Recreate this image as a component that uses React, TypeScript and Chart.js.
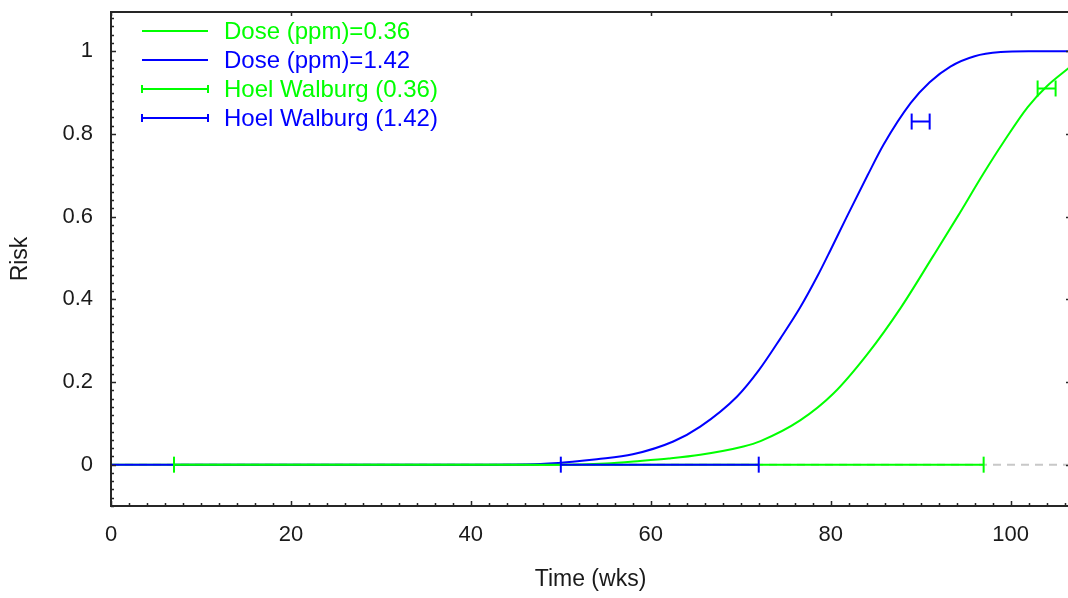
import React, { useEffect, useRef } from "react";
import { Chart, registerables } from "chart.js";

Chart.register(...registerables);

// ---- data ----
const timeLow = [0, 50, 55, 58.8, 62, 65.5, 70.3, 72.2, 76.6, 80.3, 84.1, 87.8, 91.4, 94.1, 97, 99.2, 101.9, 104, 106.6];
const riskLow = [0, 0, 0.003, 0.009, 0.015, 0.024, 0.044, 0.057, 0.107, 0.172, 0.268, 0.38, 0.505, 0.6, 0.705, 0.78, 0.865, 0.915, 0.962];

const timeHigh = [0, 40, 47, 51.3, 54, 58, 62.5, 65.5, 69.6, 72, 74.4, 76.6, 78.5, 80, 81.8, 84.1, 85.9, 88.9, 91, 93.3, 96, 98.9, 102, 106.6];
const riskHigh = [0, 0, 0.001, 0.007, 0.013, 0.025, 0.056, 0.092, 0.165, 0.228, 0.305, 0.38, 0.455, 0.52, 0.6, 0.7, 0.775, 0.875, 0.925, 0.963, 0.988, 0.998, 1.0, 1.0];

// Hoel Walburg intervals: [start, end] at a risk level
const hwLowStart = [7, 103];
const hwLowEnd = [97, 105];
const hwLowRisk = [0, 0.91];

const hwHighStart = [50, 89];
const hwHighEnd = [72, 91];
const hwHighRisk = [0, 0.83];

const xTickValues = [0, 20, 40, 60, 80, 100];
const yTickValues = [0, 0.2, 0.4, 0.6, 0.8, 1];
const xMin = 0;
const xMax = 106.6;
const yMin = -0.1;
const yMax = 1.095;

const labels = ["Dose (ppm)=0.36", "Dose (ppm)=1.42", "Hoel Walburg (0.36)", "Hoel Walburg (1.42)"];

const GREEN = "#00ff00";
const BLUE = "#0000ff";
const FONT = "'Liberation Sans', Arial, sans-serif";

function toPoints(xs: number[], ys: number[]) {
  return xs.map((x, i) => ({ x, y: ys[i] }));
}

function intervalPoints(starts: number[], ends: number[], levels: number[]) {
  const pts: { x: number; y: number | null }[] = [];
  starts.forEach((s, i) => {
    if (i > 0) pts.push({ x: (ends[i - 1] + s) / 2, y: null });
    pts.push({ x: s, y: levels[i] });
    pts.push({ x: ends[i], y: levels[i] });
  });
  return pts;
}

const framePlugin = {
  id: "frame",
  afterDraw(chart: any) {
    const { ctx, chartArea } = chart;
    const { left, right, top, bottom } = chartArea;
    const xs = chart.scales.x;
    const ys = chart.scales.y;
    ctx.save();
    ctx.strokeStyle = "#262626";
    ctx.lineWidth = 2;
    ctx.strokeRect(left, top, right - left, bottom - top);

    ctx.lineWidth = 1.5;
    ctx.beginPath();
    for (let v = 0; v <= xMax + 1e-6; v += 2) {
      const px = Math.round(xs.getPixelForValue(v)) + 0.5;
      const major = Math.abs(v % 20) < 1e-6;
      const len = major ? 5 : 3;
      ctx.moveTo(px, bottom);
      ctx.lineTo(px, bottom - len);
      if (major) {
        ctx.moveTo(px, top);
        ctx.lineTo(px, top + 4);
      }
    }
    for (let i = 0; i <= 60; i++) {
      const v = -0.1 + i * 0.02;
      if (v > yMax) break;
      const py = Math.round(ys.getPixelForValue(v)) + 0.5;
      const major = Math.abs(Math.round(v / 0.2) * 0.2 - v) < 1e-6;
      const len = major ? 5 : 3;
      ctx.moveTo(left, py);
      ctx.lineTo(left + len, py);
      if (major) {
        ctx.moveTo(right, py);
        ctx.lineTo(right - 4, py);
      }
    }
    ctx.stroke();

    // legend inside plot area
    const colors = [GREEN, BLUE, GREEN, BLUE];
    const caps = [false, false, true, true];
    ctx.font = `24px ${FONT}`;
    ctx.textBaseline = "middle";
    ctx.textAlign = "left";
    labels.forEach((lab, i) => {
      const cy = top + 19 + i * 29;
      const x0 = left + 31;
      const x1 = left + 97;
      ctx.strokeStyle = colors[i];
      ctx.lineWidth = 2;
      ctx.beginPath();
      ctx.moveTo(x0, cy);
      ctx.lineTo(x1, cy);
      if (caps[i]) {
        ctx.moveTo(x0, cy - 4);
        ctx.lineTo(x0, cy + 4);
        ctx.moveTo(x1, cy - 4);
        ctx.lineTo(x1, cy + 4);
      }
      ctx.stroke();
      ctx.fillStyle = colors[i];
      ctx.fillText(lab, left + 113, cy + 1);
    });
    ctx.restore();
  },
};

function zeroPadding(s: any) {
  s.paddingTop = 0;
  s.paddingBottom = 0;
  s.paddingLeft = 0;
  s.paddingRight = 0;
}

export default function App() {
  const ref = useRef<HTMLCanvasElement | null>(null);

  useEffect(() => {
    if (!ref.current) return;
    const errCommon = {
      borderWidth: 2,
      pointStyle: "line" as const,
      rotation: 90,
      pointRadius: 8,
      pointHoverRadius: 8,
      pointBorderWidth: 2,
      spanGaps: false,
      tension: 0,
    };
    const chart = new Chart(ref.current, {
      type: "line",
      data: {
        datasets: [
          {
            label: "zero",
            data: [
              { x: xMin, y: 0 },
              { x: xMax, y: 0 },
            ],
            borderColor: "#c8c8c8",
            borderWidth: 2,
            borderDash: [8, 6],
            pointRadius: 0,
            order: 6,
          },
          {
            label: labels[0],
            data: toPoints(timeLow, riskLow),
            borderColor: GREEN,
            borderWidth: 2,
            pointRadius: 0,
            cubicInterpolationMode: "monotone",
            order: 5,
          },
          {
            label: labels[1],
            data: toPoints(timeHigh, riskHigh),
            borderColor: BLUE,
            borderWidth: 2,
            pointRadius: 0,
            cubicInterpolationMode: "monotone",
            order: 4,
          },
          {
            label: labels[2],
            data: intervalPoints(hwLowStart, hwLowEnd, hwLowRisk),
            borderColor: GREEN,
            pointBorderColor: GREEN,
            ...errCommon,
            order: 3,
          },
          {
            label: labels[3],
            data: intervalPoints(hwHighStart, hwHighEnd, hwHighRisk),
            borderColor: BLUE,
            pointBorderColor: BLUE,
            ...errCommon,
            order: 2,
          },
        ],
      },
      options: {
        animation: false,
        responsive: false,
        events: [],
        layout: { autoPadding: false, padding: { top: 12, right: 2, left: 0, bottom: 0 } },
        plugins: {
          legend: { display: false },
          tooltip: { enabled: false },
        },
        scales: {
          x: {
            type: "linear",
            min: xMin,
            max: xMax,
            grid: { display: false, drawTicks: false },
            border: { display: false },
            afterBuildTicks: (s: any) => {
              s.ticks = xTickValues.map((v) => ({ value: v }));
            },
            afterFit: (s: any) => {
              s.height = 92;
              zeroPadding(s);
            },
            ticks: {
              color: "#1a1a1a",
              font: { family: FONT, size: 22 },
              padding: 16,
              maxRotation: 0,
              autoSkip: false,
              callback: (v: any) => String(v),
            },
            title: {
              display: true,
              text: "Time (wks)",
              color: "#1a1a1a",
              font: { family: FONT, size: 23 },
              padding: { top: 0, bottom: 5 },
            },
          },
          y: {
            type: "linear",
            min: yMin,
            max: yMax,
            grid: { display: false, drawTicks: false },
            border: { display: false },
            afterBuildTicks: (s: any) => {
              s.ticks = yTickValues.map((v) => ({ value: v }));
            },
            afterFit: (s: any) => {
              s.width = 111;
              zeroPadding(s);
            },
            ticks: {
              color: "#1a1a1a",
              font: { family: FONT, size: 22 },
              padding: 18,
              autoSkip: false,
              callback: (v: any) => String(Number(Number(v).toFixed(2))),
            },
            title: {
              display: true,
              text: "Risk",
              color: "#1a1a1a",
              font: { family: FONT, size: 23 },
              padding: { top: 7, bottom: 0 },
            },
          },
        },
      },
      plugins: [framePlugin],
    } as any);
    return () => chart.destroy();
  }, []);

  return (
    <div
      style={{
        position: "fixed",
        left: 0,
        top: 0,
        width: 1068,
        height: 598,
        overflow: "hidden",
        background: "#fff",
      }}
    >
      <canvas ref={ref} width={1072} height={598} style={{ display: "block" }} />
    </div>
  );
}
